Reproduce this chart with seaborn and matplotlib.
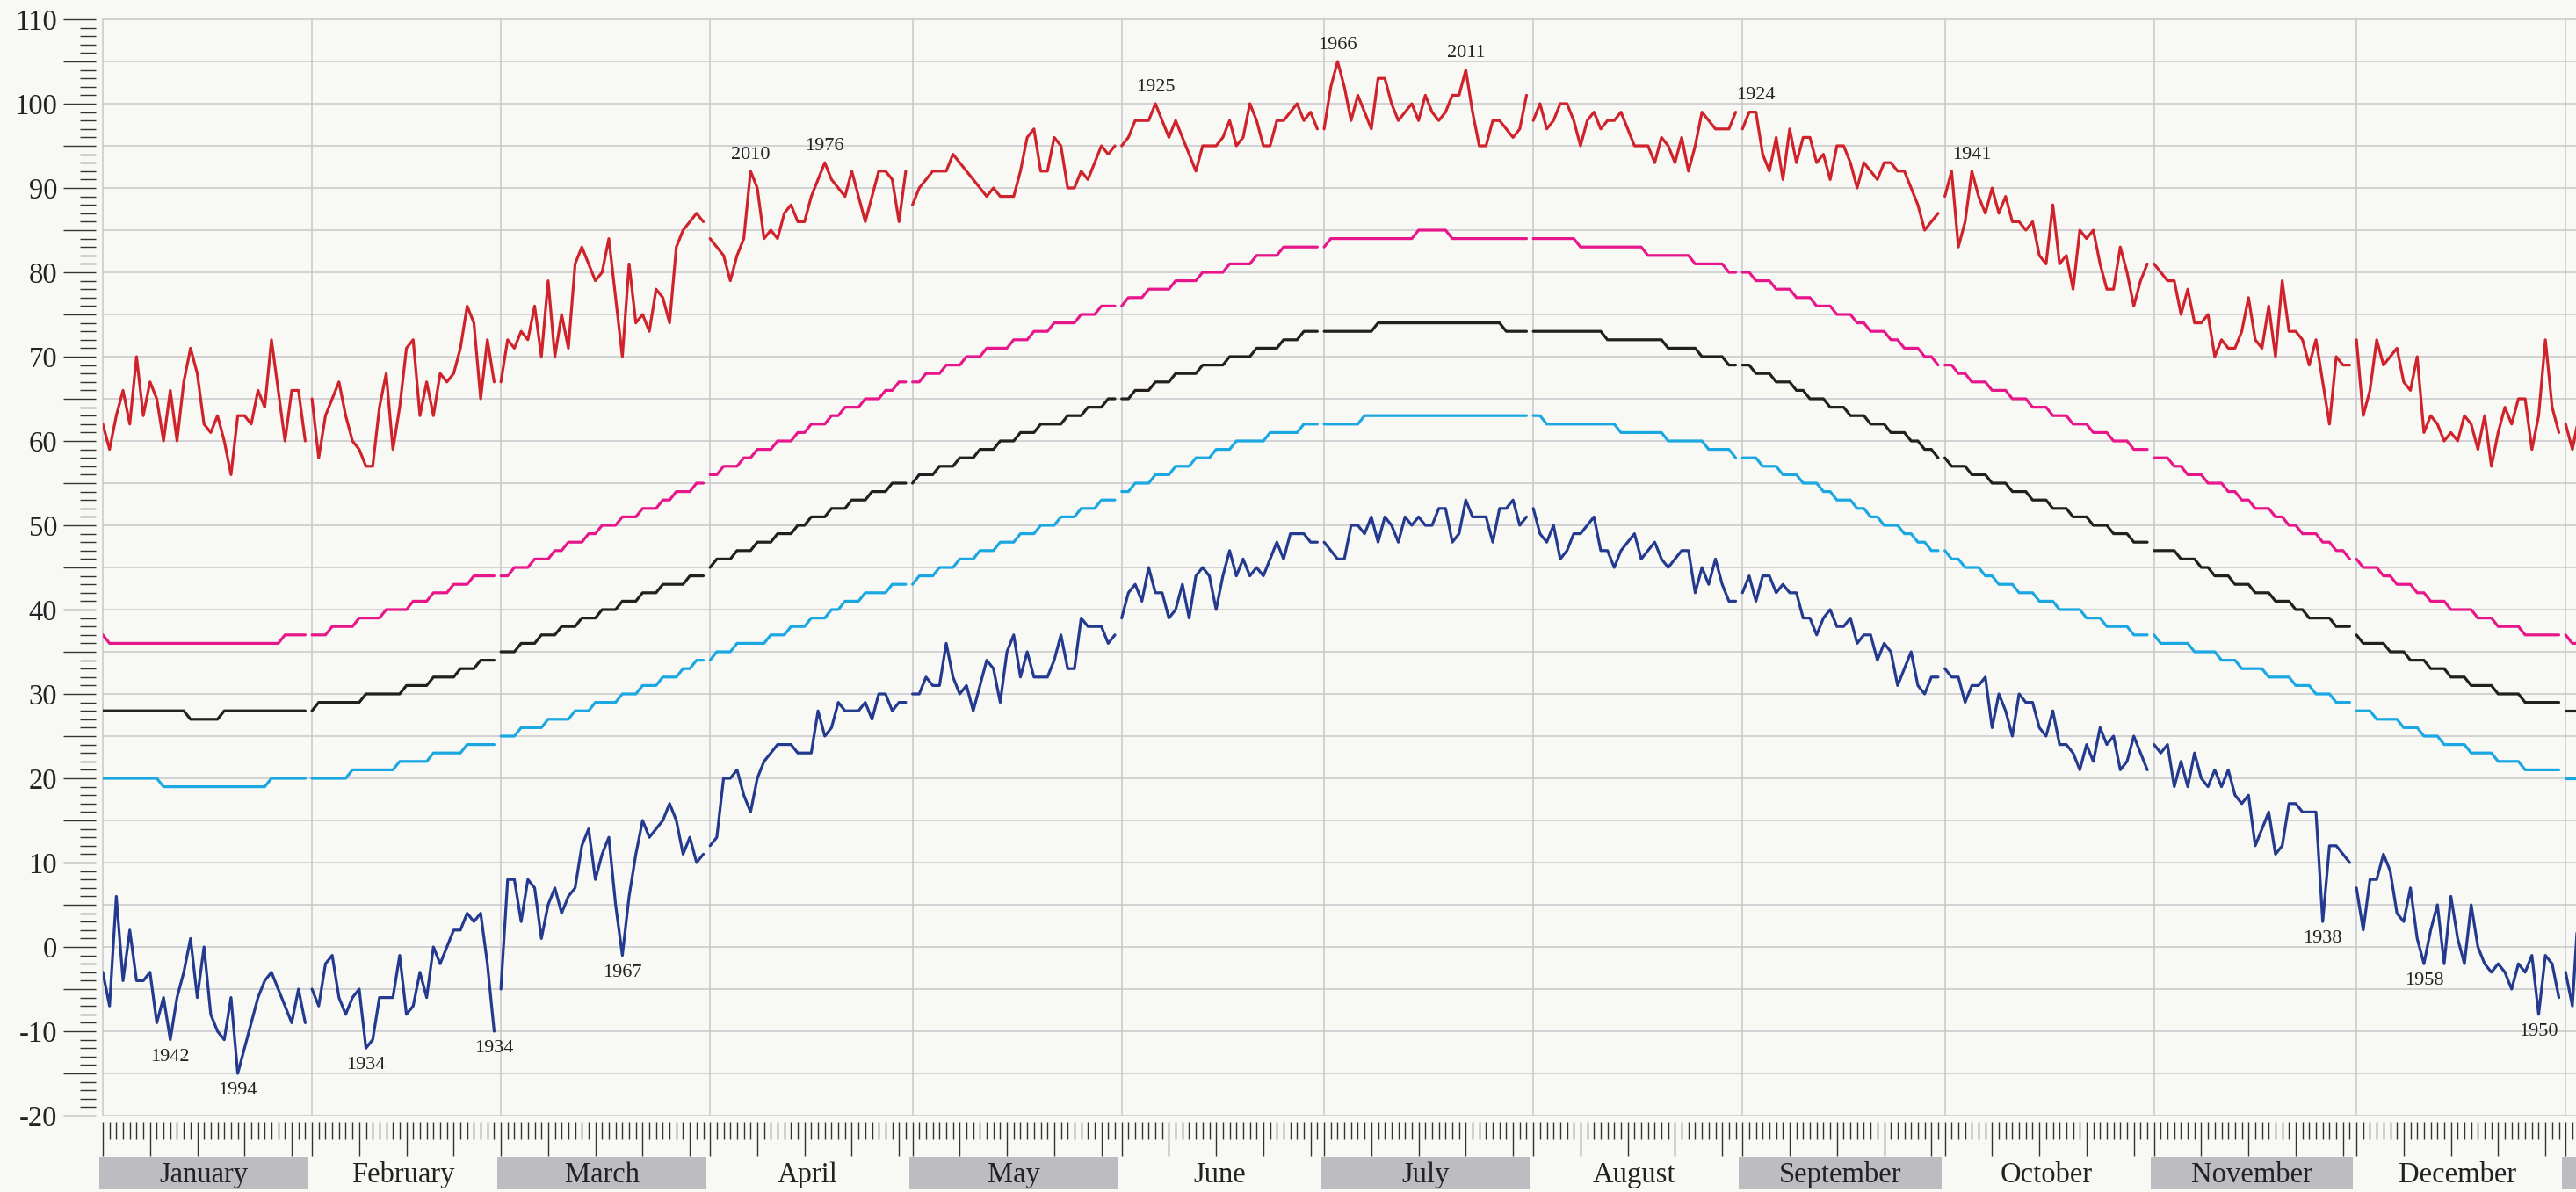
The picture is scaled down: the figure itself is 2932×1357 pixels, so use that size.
import numpy as np
import pandas as pd
import matplotlib.pyplot as plt
import seaborn as sns
from matplotlib.patches import Rectangle

months = ['January', 'February', 'March', 'April', 'May', 'June', 'July',
          'August', 'September', 'October', 'November', 'December']
month_days = [31, 28, 31, 30, 31, 30, 31, 31, 30, 31, 30, 31]

# daily record highs, one list per month
record_high = [
    [62, 59, 63, 66, 62, 70, 63, 67, 65, 60, 66, 60, 67, 71, 68, 62, 61, 63, 60, 56, 63, 63, 62, 66, 64, 72, 66, 60, 66, 66, 60],
    [65, 58, 63, 65, 67, 63, 60, 59, 57, 57, 64, 68, 59, 64, 71, 72, 63, 67, 63, 68, 67, 68, 71, 76, 74, 65, 72, 67],
    [67, 72, 71, 73, 72, 76, 70, 79, 70, 75, 71, 81, 83, 81, 79, 80, 84, 77, 70, 81, 74, 75, 73, 78, 77, 74, 83, 85, 86, 87, 86],
    [84, 83, 82, 79, 82, 84, 92, 90, 84, 85, 84, 87, 88, 86, 86, 89, 91, 93, 91, 90, 89, 92, 89, 86, 89, 92, 92, 91, 86, 92],
    [88, 90, 91, 92, 92, 92, 94, 93, 92, 91, 90, 89, 90, 89, 89, 89, 92, 96, 97, 92, 92, 96, 95, 90, 90, 92, 91, 93, 95, 94, 95],
    [95, 96, 98, 98, 98, 100, 98, 96, 98, 96, 94, 92, 95, 95, 95, 96, 98, 95, 96, 100, 98, 95, 95, 98, 98, 99, 100, 98, 99, 97],
    [97, 102, 105, 102, 98, 101, 99, 97, 103, 103, 100, 98, 99, 100, 98, 101, 99, 98, 99, 101, 101, 104, 99, 95, 95, 98, 98, 97, 96, 97, 101],
    [98, 100, 97, 98, 100, 100, 98, 95, 98, 99, 97, 98, 98, 99, 97, 95, 95, 95, 93, 96, 95, 93, 96, 92, 95, 99, 98, 97, 97, 97, 99],
    [97, 99, 99, 94, 92, 96, 91, 97, 93, 96, 96, 93, 94, 91, 95, 95, 93, 90, 93, 92, 91, 93, 93, 92, 92, 90, 88, 85, 86, 87],
    [89, 92, 83, 86, 92, 89, 87, 90, 87, 89, 86, 86, 85, 86, 82, 81, 88, 81, 82, 78, 85, 84, 85, 81, 78, 78, 83, 80, 76, 79, 81],
    [81, 80, 79, 79, 75, 78, 74, 74, 75, 70, 72, 71, 71, 73, 77, 72, 71, 76, 70, 79, 73, 73, 72, 69, 72, 67, 62, 70, 69, 69],
    [72, 63, 66, 72, 69, 70, 71, 67, 66, 70, 61, 63, 62, 60, 61, 60, 63, 62, 59, 63, 57, 61, 64, 62, 65, 65, 59, 63, 72, 64, 61],
]

normal_high = [
    [37, 36, 36, 36, 36, 36, 36, 36, 36, 36, 36, 36, 36, 36, 36, 36, 36, 36, 36, 36, 36, 36, 36, 36, 36, 36, 36, 37, 37, 37, 37],
    [37, 37, 37, 38, 38, 38, 38, 39, 39, 39, 39, 40, 40, 40, 40, 41, 41, 41, 42, 42, 42, 43, 43, 43, 44, 44, 44, 44],
    [44, 44, 45, 45, 45, 46, 46, 46, 47, 47, 48, 48, 48, 49, 49, 50, 50, 50, 51, 51, 51, 52, 52, 52, 53, 53, 54, 54, 54, 55, 55],
    [56, 56, 57, 57, 57, 58, 58, 59, 59, 59, 60, 60, 60, 61, 61, 62, 62, 62, 63, 63, 64, 64, 64, 65, 65, 65, 66, 66, 67, 67],
    [67, 67, 68, 68, 68, 69, 69, 69, 70, 70, 70, 71, 71, 71, 71, 72, 72, 72, 73, 73, 73, 74, 74, 74, 74, 75, 75, 75, 76, 76, 76],
    [76, 77, 77, 77, 78, 78, 78, 78, 79, 79, 79, 79, 80, 80, 80, 80, 81, 81, 81, 81, 82, 82, 82, 82, 83, 83, 83, 83, 83, 83],
    [83, 84, 84, 84, 84, 84, 84, 84, 84, 84, 84, 84, 84, 84, 85, 85, 85, 85, 85, 84, 84, 84, 84, 84, 84, 84, 84, 84, 84, 84, 84],
    [84, 84, 84, 84, 84, 84, 84, 83, 83, 83, 83, 83, 83, 83, 83, 83, 83, 82, 82, 82, 82, 82, 82, 82, 81, 81, 81, 81, 81, 80, 80],
    [80, 80, 79, 79, 79, 78, 78, 78, 77, 77, 77, 76, 76, 76, 75, 75, 75, 74, 74, 73, 73, 73, 72, 72, 71, 71, 71, 70, 70, 69],
    [69, 69, 68, 68, 67, 67, 67, 66, 66, 66, 65, 65, 65, 64, 64, 64, 63, 63, 63, 62, 62, 62, 61, 61, 61, 60, 60, 60, 59, 59, 59],
    [58, 58, 58, 57, 57, 56, 56, 56, 55, 55, 55, 54, 54, 53, 53, 52, 52, 52, 51, 51, 50, 50, 49, 49, 49, 48, 48, 47, 47, 46],
    [46, 45, 45, 45, 44, 44, 43, 43, 43, 42, 42, 41, 41, 41, 40, 40, 40, 40, 39, 39, 39, 38, 38, 38, 38, 37, 37, 37, 37, 37, 37],
]

normal_mean = [
    [28, 28, 28, 28, 28, 28, 28, 28, 28, 28, 28, 28, 28, 27, 27, 27, 27, 27, 28, 28, 28, 28, 28, 28, 28, 28, 28, 28, 28, 28, 28],
    [28, 29, 29, 29, 29, 29, 29, 29, 30, 30, 30, 30, 30, 30, 31, 31, 31, 31, 32, 32, 32, 32, 33, 33, 33, 34, 34, 34],
    [35, 35, 35, 36, 36, 36, 37, 37, 37, 38, 38, 38, 39, 39, 39, 40, 40, 40, 41, 41, 41, 42, 42, 42, 43, 43, 43, 43, 44, 44, 44],
    [45, 46, 46, 46, 47, 47, 47, 48, 48, 48, 49, 49, 49, 50, 50, 51, 51, 51, 52, 52, 52, 53, 53, 53, 54, 54, 54, 55, 55, 55],
    [55, 56, 56, 56, 57, 57, 57, 58, 58, 58, 59, 59, 59, 60, 60, 60, 61, 61, 61, 62, 62, 62, 62, 63, 63, 63, 64, 64, 64, 65, 65],
    [65, 65, 66, 66, 66, 67, 67, 67, 68, 68, 68, 68, 69, 69, 69, 69, 70, 70, 70, 70, 71, 71, 71, 71, 72, 72, 72, 73, 73, 73],
    [73, 73, 73, 73, 73, 73, 73, 73, 74, 74, 74, 74, 74, 74, 74, 74, 74, 74, 74, 74, 74, 74, 74, 74, 74, 74, 74, 73, 73, 73, 73],
    [73, 73, 73, 73, 73, 73, 73, 73, 73, 73, 73, 72, 72, 72, 72, 72, 72, 72, 72, 72, 71, 71, 71, 71, 71, 70, 70, 70, 70, 69, 69],
    [69, 69, 68, 68, 68, 67, 67, 67, 66, 66, 65, 65, 65, 64, 64, 64, 63, 63, 63, 62, 62, 62, 61, 61, 61, 60, 60, 59, 59, 58],
    [58, 57, 57, 57, 56, 56, 56, 55, 55, 55, 54, 54, 54, 53, 53, 53, 52, 52, 52, 51, 51, 51, 50, 50, 50, 49, 49, 49, 48, 48, 48],
    [47, 47, 47, 47, 46, 46, 46, 45, 45, 44, 44, 44, 43, 43, 43, 42, 42, 42, 41, 41, 41, 40, 40, 39, 39, 39, 39, 38, 38, 38],
    [37, 36, 36, 36, 36, 35, 35, 35, 34, 34, 34, 33, 33, 33, 32, 32, 32, 31, 31, 31, 31, 30, 30, 30, 30, 29, 29, 29, 29, 29, 29],
]

normal_low = [
    [20, 20, 20, 20, 20, 20, 20, 20, 20, 19, 19, 19, 19, 19, 19, 19, 19, 19, 19, 19, 19, 19, 19, 19, 19, 20, 20, 20, 20, 20, 20],
    [20, 20, 20, 20, 20, 20, 21, 21, 21, 21, 21, 21, 21, 22, 22, 22, 22, 22, 23, 23, 23, 23, 23, 24, 24, 24, 24, 24],
    [25, 25, 25, 26, 26, 26, 26, 27, 27, 27, 27, 28, 28, 28, 29, 29, 29, 29, 30, 30, 30, 31, 31, 31, 32, 32, 32, 33, 33, 34, 34],
    [34, 35, 35, 35, 36, 36, 36, 36, 36, 37, 37, 37, 38, 38, 38, 39, 39, 39, 40, 40, 41, 41, 41, 42, 42, 42, 42, 43, 43, 43],
    [43, 44, 44, 44, 45, 45, 45, 46, 46, 46, 47, 47, 47, 48, 48, 48, 49, 49, 49, 50, 50, 50, 51, 51, 51, 52, 52, 52, 53, 53, 53],
    [54, 54, 55, 55, 55, 56, 56, 56, 57, 57, 57, 58, 58, 58, 59, 59, 59, 60, 60, 60, 60, 60, 61, 61, 61, 61, 61, 62, 62, 62],
    [62, 62, 62, 62, 62, 62, 63, 63, 63, 63, 63, 63, 63, 63, 63, 63, 63, 63, 63, 63, 63, 63, 63, 63, 63, 63, 63, 63, 63, 63, 63],
    [63, 63, 62, 62, 62, 62, 62, 62, 62, 62, 62, 62, 62, 61, 61, 61, 61, 61, 61, 61, 60, 60, 60, 60, 60, 60, 59, 59, 59, 59, 58],
    [58, 58, 58, 57, 57, 57, 56, 56, 56, 55, 55, 55, 54, 54, 53, 53, 53, 52, 52, 51, 51, 50, 50, 50, 49, 49, 48, 48, 47, 47],
    [47, 46, 46, 45, 45, 45, 44, 44, 43, 43, 43, 42, 42, 42, 41, 41, 41, 40, 40, 40, 40, 39, 39, 39, 38, 38, 38, 38, 37, 37, 37],
    [37, 36, 36, 36, 36, 36, 35, 35, 35, 35, 34, 34, 34, 33, 33, 33, 33, 32, 32, 32, 32, 31, 31, 31, 30, 30, 30, 29, 29, 29],
    [28, 28, 28, 27, 27, 27, 27, 26, 26, 26, 25, 25, 25, 24, 24, 24, 24, 23, 23, 23, 23, 22, 22, 22, 22, 21, 21, 21, 21, 21, 21],
]

record_low = [
    [-3, -7, 6, -4, 2, -4, -4, -3, -9, -6, -11, -6, -3, 1, -6, 0, -8, -10, -11, -6, -15, -12, -9, -6, -4, -3, -5, -7, -9, -5, -9],
    [-5, -7, -2, -1, -6, -8, -6, -5, -12, -11, -6, -6, -6, -1, -8, -7, -3, -6, 0, -2, 0, 2, 2, 4, 3, 4, -2, -10],
    [-5, 8, 8, 3, 8, 7, 1, 5, 7, 4, 6, 7, 12, 14, 8, 11, 13, 5, -1, 6, 11, 15, 13, 14, 15, 17, 15, 11, 13, 10, 11],
    [12, 13, 20, 20, 21, 18, 16, 20, 22, 23, 24, 24, 24, 23, 23, 23, 28, 25, 26, 29, 28, 28, 28, 29, 27, 30, 30, 28, 29, 29],
    [30, 30, 32, 31, 31, 36, 32, 30, 31, 28, 31, 34, 33, 29, 35, 37, 32, 35, 32, 32, 32, 34, 37, 33, 33, 39, 38, 38, 38, 36, 37],
    [39, 42, 43, 41, 45, 42, 42, 39, 40, 43, 39, 44, 45, 44, 40, 44, 47, 44, 46, 44, 45, 44, 46, 48, 46, 49, 49, 49, 48, 48],
    [48, 47, 46, 46, 50, 50, 49, 51, 48, 51, 50, 48, 51, 50, 51, 50, 50, 52, 52, 48, 49, 53, 51, 51, 51, 48, 52, 52, 53, 50, 51],
    [52, 49, 48, 50, 46, 47, 49, 49, 50, 51, 47, 47, 45, 47, 48, 49, 46, 47, 48, 46, 45, 46, 47, 47, 42, 45, 43, 46, 43, 41, 41],
    [42, 44, 41, 44, 44, 42, 43, 42, 42, 39, 39, 37, 39, 40, 38, 38, 39, 36, 37, 37, 34, 36, 35, 31, 33, 35, 31, 30, 32, 32],
    [33, 32, 32, 29, 31, 31, 32, 26, 30, 28, 25, 30, 29, 29, 26, 25, 28, 24, 24, 23, 21, 24, 22, 26, 24, 25, 21, 22, 25, 23, 21],
    [24, 23, 24, 19, 22, 19, 23, 20, 19, 21, 19, 21, 18, 17, 18, 12, 14, 16, 11, 12, 17, 17, 16, 16, 16, 3, 12, 12, 11, 10],
    [7, 2, 8, 8, 11, 9, 4, 3, 7, 1, -2, 2, 5, -2, 6, 1, -2, 5, 0, -2, -3, -2, -3, -5, -2, -3, -1, -8, -1, -2, -6],
]

# (year, month index, day index) of the labelled records
high_labels = [('2010', 3, 6), ('1976', 3, 17), ('1925', 5, 5), ('1966', 6, 2),
               ('2011', 6, 21), ('1924', 8, 2), ('1941', 9, 4)]
low_labels = [('1942', 0, 10), ('1994', 0, 20), ('1934', 1, 8), ('1934', 1, 27),
              ('1967', 2, 18), ('1938', 10, 25), ('1958', 11, 10), ('1950', 11, 27)]

palette = {'Record high': '#d0222b', 'Normal high': '#e8168b', 'Mean': '#231f20',
           'Normal low': '#1aa7e2', 'Record low': '#233a8e'}

W, H = 2932, 1357
bg = '#f8f8f5'
grid_c = '#c8c8cc'
sns.set_style('white')
plt.rcParams['font.family'] = ['Liberation Serif', 'DejaVu Serif']

starts = np.cumsum([0] + month_days[:-1])

rows = []
for name, data in [('Record high', record_high), ('Normal high', normal_high),
                   ('Mean', normal_mean), ('Normal low', normal_low),
                   ('Record low', record_low)]:
    for m, vals in enumerate(data):
        assert len(vals) == month_days[m], (name, m, len(vals))
        for i, v in enumerate(vals):
            rows.append((name, f'{name}-{m}', starts[m] + i, v))
    # the view runs into the next January
    for i, v in enumerate(data[0][:4]):
        rows.append((name, f'{name}-next', 365 + i, v))
df = pd.DataFrame(rows, columns=['series', 'seg', 'day', 'value'])

fig = plt.figure(figsize=(W / 100, H / 100), dpi=100, facecolor=bg)
left, top, bottom = 117, 22, 1270
ax = fig.add_axes([left / W, 1 - bottom / H, (W - left) / W, (bottom - top) / H])
ax.set_facecolor(bg)

for v in range(-20, 111, 5):
    ax.axhline(v, color=grid_c, lw=1.1, zorder=0, clip_on=False)
for s in list(starts) + [365]:
    ax.axvline(s, color=grid_c, lw=1.1, zorder=0, clip_on=False)

sns.lineplot(data=df, x='day', y='value', hue='series', units='seg', estimator=None,
             palette=palette, linewidth=2.3, legend=False, sort=False, ax=ax)

for year, m, d in high_labels:
    ax.annotate(year, (starts[m] + d, record_high[m][d]), xytext=(0, 13.5),
                textcoords='offset points', ha='center', va='center',
                fontsize=16, color='#222222')
for year, m, d in low_labels:
    ax.annotate(year, (starts[m] + d, record_low[m][d]), xytext=(0, -14),
                textcoords='offset points', ha='center', va='center',
                fontsize=16, color='#222222')

ax.set_xlabel('')
ax.set_ylabel('')

for sp in ax.spines.values():
    sp.set_color('none')
ax.spines['left'].set_position(('outward', 5.8))
ax.spines['bottom'].set_position(('outward', 5.0))

yt = list(range(-20, 111, 5))
ax.set_yticks(yt)
ax.set_yticklabels([str(v) if v % 10 == 0 else '' for v in yt])
ax.set_yticks(range(-20, 111), minor=True)
ax.tick_params(axis='y', which='both', left=True)
ax.tick_params(axis='y', which='major', length=26.6, width=1.0, color='#333333',
               labelsize=23.5, labelcolor='#222222', pad=5)
ax.tick_params(axis='y', which='minor', length=13, width=1.0, color='#333333')

x_max = 365 + (W - left - 365 * 7.68) / 7.68
week_ticks = [starts[m] + k for m in range(12) for k in (0, 7, 14, 21, 28) if k < month_days[m]]
week_ticks += [365]
ax.set_xticks(week_ticks)
ax.set_xticks(range(0, 367), minor=True)
ax.tick_params(axis='x', which='both', bottom=True)
ax.tick_params(axis='x', which='major', length=28, width=1.0, color='#333333', labelbottom=False)
ax.tick_params(axis='x', which='minor', length=14.4, width=1.0, color='#333333')

# limits after the ticks, since set_xticks widens the view
ax.set_xlim(0, x_max)
ax.set_ylim(-20, 110)

# month label strip under the day ticks
trans = ax.get_xaxis_transform()
box_top = (bottom - 1317) / (bottom - top)
box_bot = (bottom - 1354) / (bottom - top)
text_y = (bottom - 1346) / (bottom - top)
for m, name in enumerate(months):
    x0 = starts[m] - 0.5
    if m % 2 == 0:
        ax.add_patch(Rectangle((x0, box_bot), month_days[m], box_top - box_bot,
                               transform=trans, facecolor='#bdbdc1', edgecolor='none',
                               clip_on=False))
    ax.text(starts[m] + (month_days[m] - 1) / 2, text_y, name, transform=trans,
            ha='center', va='baseline', fontsize=23.5, color='#222222')
ax.add_patch(Rectangle((364.5, box_bot), 31, box_top - box_bot, transform=trans,
                       facecolor='#bdbdc1', edgecolor='none', clip_on=False))
ax.set_xlim(0, x_max)

fig.savefig('out.png', dpi=100, facecolor=bg)
